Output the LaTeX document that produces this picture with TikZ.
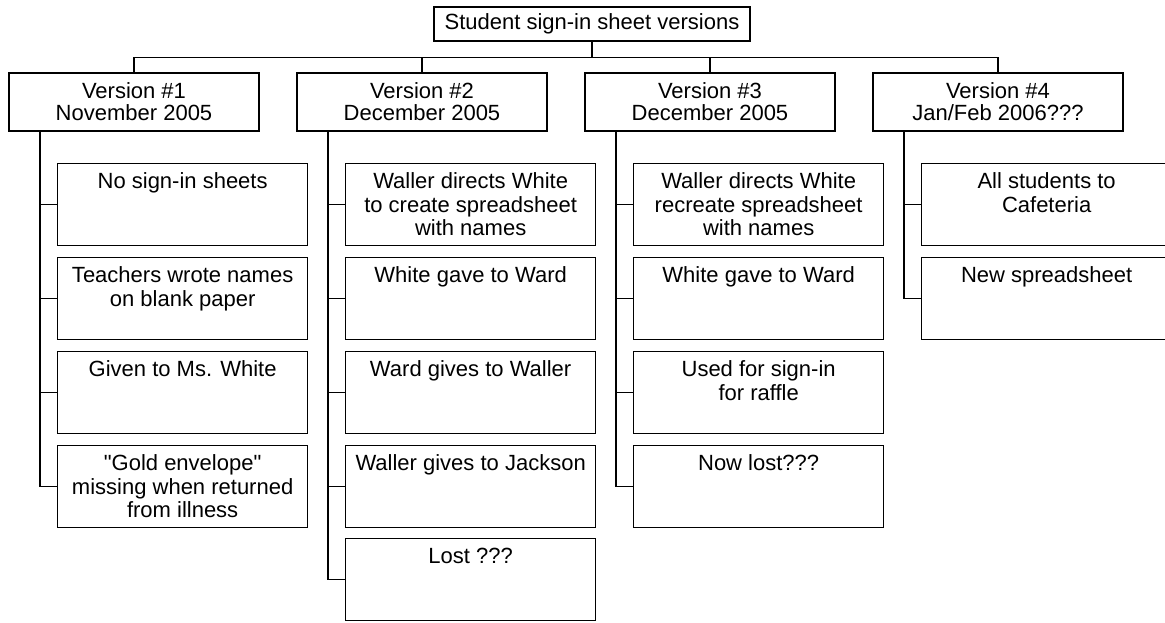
\documentclass[tikz,border=0pt]{standalone}
\usepackage{fontspec}
\setmainfont{Liberation Sans}[Ligatures=TeXOff]
\newcommand{\bxt}[1]{\parbox[c][82pt][t]{250pt}{\centering\rule{0pt}{25pt}#1\par}}
\begin{document}
\begin{tikzpicture}[x=1pt,y=-1pt,line width=1.3pt,
  rootbox/.style={draw, minimum width=316pt, minimum height=34pt, inner sep=0pt, font=\fontsize{22}{23.5}\selectfont},
  verbox/.style={draw, minimum width=250pt, minimum height=58pt, inner sep=0pt, align=center, font=\fontsize{22}{22}\selectfont},
  itembox/.style={draw, anchor=north west, inner sep=0pt, font=\fontsize{22}{23.5}\selectfont},
  link/.style={line width=1.2pt}]
\clip (0,0) rectangle (1165,622);
\fill[white] (0,0) rectangle (1165,622);

\node[rootbox] (root) at (592,24) {Student sign-in sheet versions};

\node[verbox] (v1) at (134,102) {Version \#1\\November 2005};
\node[verbox] (v2) at (422,102) {Version \#2\\December 2005};
\node[verbox] (v3) at (710,102) {Version \#3\\December 2005};
\node[verbox] (v4) at (998,102) {Version \#4\\Jan/Feb 2006???};

\foreach \v in {v1,v2,v3,v4}{
  \draw[link] (root.south) -- ++(0,16) -| (\v.north);
}

% column 1
\node[itembox] (a1) at (57,163) {\bxt{No sign-in sheets}};
\node[itembox] (a2) at (57,257) {\bxt{Teachers wrote names\\on blank paper}};
\node[itembox] (a3) at (57,351) {\bxt{Given to Ms. White}};
\node[itembox] (a4) at (57,445) {\bxt{"Gold envelope"\\missing when returned\\from illness}};

% column 2
\node[itembox] (b1) at (345,163) {\bxt{Waller directs White\\to create spreadsheet\\with names}};
\node[itembox] (b2) at (345,257) {\bxt{White gave to Ward}};
\node[itembox] (b3) at (345,351) {\bxt{Ward gives to Waller}};
\node[itembox] (b4) at (345,445) {\bxt{Waller gives to Jackson}};
\node[itembox] (b5) at (345,538) {\bxt{Lost ???}};

% column 3
\node[itembox] (c1) at (633,163) {\bxt{Waller directs White\\recreate spreadsheet\\with names}};
\node[itembox] (c2) at (633,257) {\bxt{White gave to Ward}};
\node[itembox] (c3) at (633,351) {\bxt{Used for sign-in\\for raffle}};
\node[itembox] (c4) at (633,445) {\bxt{Now lost???}};

% column 4
\node[itembox] (d1) at (921,163) {\bxt{All students to\\Cafeteria}};
\node[itembox] (d2) at (921,257) {\bxt{New spreadsheet}};

\coordinate (s1) at (40,131);
\coordinate (s2) at (328,131);
\coordinate (s3) at (616,131);
\coordinate (s4) at (904,131);

\foreach \n in {a1,a2,a3,a4}{\draw[link] (s1) |- (\n.west);}
\foreach \n in {b1,b2,b3,b4,b5}{\draw[link] (s2) |- (\n.west);}
\foreach \n in {c1,c2,c3,c4}{\draw[link] (s3) |- (\n.west);}
\foreach \n in {d1,d2}{\draw[link] (s4) |- (\n.west);}
\end{tikzpicture}
\end{document}
